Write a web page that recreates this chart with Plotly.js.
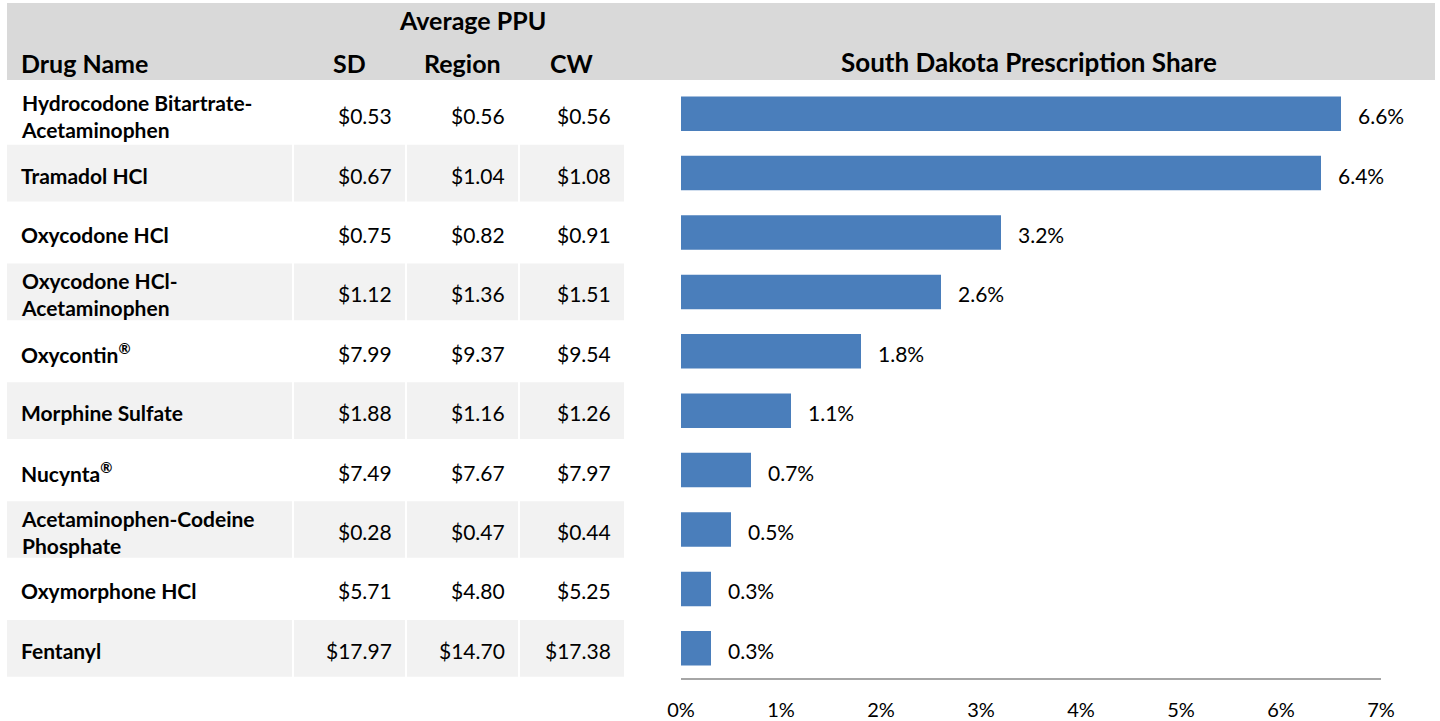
<!DOCTYPE html>
<html lang="en">
<head>
  <meta charset="UTF-8" />
  <title>South Dakota Prescription Share</title>
  <script src="https://cdn.jsdelivr.net/npm/plotly.js-dist@3.0.1/plotly.min.js"></script>
  <style>
    body { margin: 0; background: #fff; }
    #chart { width: 1440px; height: 721px; }
  </style>
</head>
<body>
<div id="chart"></div>
<script>
  // data
  const drugNames = ["Hydrocodone Bitartrate-Acetaminophen", "Tramadol HCl", "Oxycodone HCl",
    "Oxycodone HCl-Acetaminophen", "Oxycontin®", "Morphine Sulfate", "Nucynta®",
    "Acetaminophen-Codeine Phosphate", "Oxymorphone HCl", "Fentanyl"];
  const drugLabels = ["Hydrocodone Bitartrate-<br>Acetaminophen", "Tramadol HCl", "Oxycodone HCl",
    "Oxycodone HCl-<br>Acetaminophen", "Oxycontin<sup>®</sup>", "Morphine Sulfate", "Nucynta<sup>®</sup>",
    "Acetaminophen-Codeine<br>Phosphate", "Oxymorphone HCl", "Fentanyl"];
  const sdPPU = [0.53, 0.67, 0.75, 1.12, 7.99, 1.88, 7.49, 0.28, 5.71, 17.97];
  const regionPPU = [0.56, 1.04, 0.82, 1.36, 9.37, 1.16, 7.67, 0.47, 4.80, 14.70];
  const cwPPU = [0.56, 1.08, 0.91, 1.51, 9.54, 1.26, 7.97, 0.44, 5.25, 17.38];
  const sdShare = [6.6, 6.4, 3.2, 2.6, 1.8, 1.1, 0.7, 0.5, 0.3, 0.3];
  const colHeaders = ["SD", "Region", "CW"];
  const shareTicks = [0, 1, 2, 3, 4, 5, 6, 7];

  // table geometry, in px of the x2 axis (1 unit = 1 px)
  const FONT = "Lato, 'Open Sans', sans-serif";
  const W = 1440, H = 721;
  const colLeft = [7, 294, 407, 520];
  const colRight = [292, 405, 518, 624];
  const rowFill = drugNames.map((_, i) => i % 2 ? "#f2f2f2" : "#ffffff");
  const money = v => "$" + v.toFixed(2);
  const cellFont = { family: FONT, size: 21, color: "#000" };
  const headFont = { family: FONT, size: 25, color: "#000" };

  const traces = [];

  // cell backgrounds
  colLeft.forEach((left, c) => {
    traces.push({
      type: "bar", orientation: "h", xaxis: "x2", yaxis: "y",
      y: drugNames, x: drugNames.map(() => colRight[c] - left), base: left,
      width: 0.955, marker: { color: rowFill, line: { width: 0 } },
      hoverinfo: "skip", showlegend: false
    });
  });

  // share bars
  traces.push({
    type: "bar", orientation: "h", xaxis: "x", yaxis: "y",
    x: sdShare, y: drugNames, width: 0.58,
    marker: { color: "#4a7ebb", line: { width: 0 } },
    hovertemplate: "%{y}: %{x:.1f}%<extra></extra>", showlegend: false
  });

  const annotations = [];

  // table text
  drugNames.forEach((name, i) => {
    annotations.push({
      x: 19, y: name, xref: "x2", yref: "y", text: "<b>" + drugLabels[i] + "</b>",
      showarrow: false, xanchor: "left", yanchor: "middle", align: "left", yshift: -2,
      font: cellFont
    });
    [sdPPU, regionPPU, cwPPU].forEach((vals, c) => {
      annotations.push({
        x: colRight[c + 1] - 11, y: name, xref: "x2", yref: "y", text: money(vals[i]),
        showarrow: false, xanchor: "right", yanchor: "middle", yshift: -2, font: cellFont
      });
    });
  });

  // value labels
  sdShare.forEach((v, i) => {
    annotations.push({
      x: v, y: drugNames[i], xref: "x", yref: "y",
      text: v.toFixed(1) + "%", showarrow: false, xanchor: "left", xshift: 15, yshift: -2,
      font: cellFont
    });
  });

  // header
  annotations.push({
    x: 472, y: 1 - 20 / H, xref: "x2", yref: "paper", text: "<b>Average PPU</b>",
    showarrow: false, xanchor: "center", yanchor: "middle", font: headFont
  });
  annotations.push({
    x: 19, y: 1 - 63 / H, xref: "x2", yref: "paper", text: "<b>Drug Name</b>",
    showarrow: false, xanchor: "left", yanchor: "middle", font: headFont
  });
  colHeaders.forEach((h, c) => {
    annotations.push({
      x: (colLeft[c + 1] + colRight[c + 1]) / 2, y: 1 - 63 / H, xref: "x2", yref: "paper",
      text: "<b>" + h + "</b>", showarrow: false, xanchor: "center", yanchor: "middle", font: headFont
    });
  });

  const layout = {
    width: W, height: H,
    margin: { l: 0, r: 0, t: 0, b: 0 },
    paper_bgcolor: "#fff", plot_bgcolor: "rgba(0,0,0,0)",
    barmode: "overlay",
    font: { family: FONT, color: "#000" },
    title: {
      text: "<b>South Dakota Prescription Share</b>", x: 1029 / W, xanchor: "center",
      y: 1 - 63 / H, yanchor: "middle", font: { family: FONT, size: 26, color: "#000" }
    },
    xaxis: {
      domain: [681 / W, 1381 / W], range: [0, 7], anchor: "y",
      tickvals: shareTicks, ticktext: shareTicks.map(t => t + "%"),
      showgrid: false, zeroline: false, showline: true, linecolor: "#a6a6a6", linewidth: 2,
      ticks: "", ticklabelstandoff: 13, tickfont: { family: FONT, size: 20, color: "#000" },
      fixedrange: true
    },
    xaxis2: {
      domain: [0, 640 / W], range: [0, 640], anchor: "y", visible: false, fixedrange: true
    },
    yaxis: {
      type: "category", categoryorder: "array", categoryarray: drugNames,
      domain: [1 - 678 / H, 1 - 84 / H], range: [9.5, -0.5],
      showticklabels: false, showgrid: false, zeroline: false, showline: false, fixedrange: true
    },
    shapes: [{
      type: "rect", xref: "paper", yref: "paper", layer: "below",
      x0: 7 / W, x1: 1435 / W, y0: 1 - 80 / H, y1: 1 - 3 / H,
      fillcolor: "#d9d9d9", line: { width: 0 }
    }],
    annotations: annotations
  };

  Plotly.newPlot("chart", traces, layout, { displayModeBar: false, responsive: false });
</script>
</body>
</html>
